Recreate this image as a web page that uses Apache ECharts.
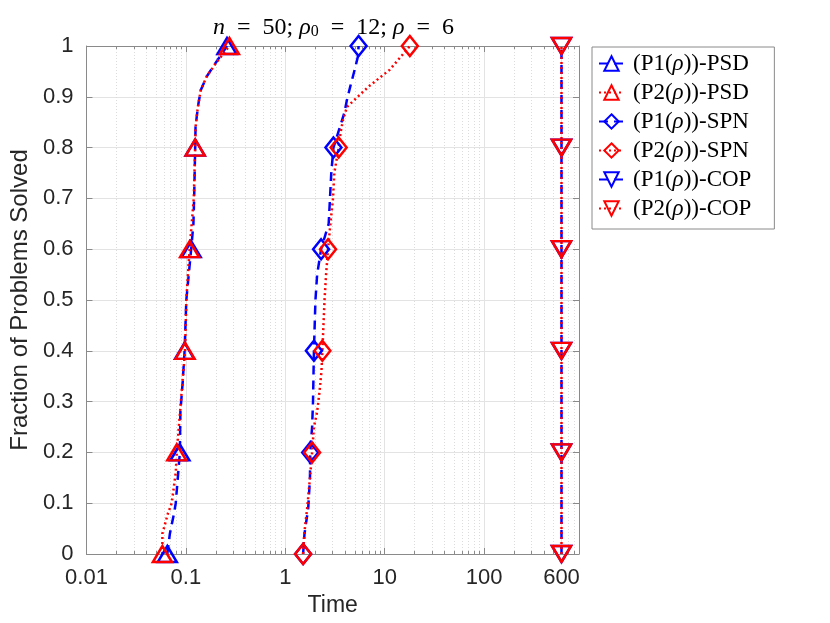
<!DOCTYPE html>
<html>
<head>
<meta charset="utf-8">
<script src="https://cdn.jsdelivr.net/npm/echarts@6/dist/echarts.min.js"></script>
<style>
  html, body { margin: 0; padding: 0; background: #fff; }
  #chart { width: 830px; height: 623px; }
</style>
</head>
<body>
<div id="chart"></div>
<script>
// performance profile: fraction of problems solved vs time (log scale)
var psdP1Frac = [0, 0.04, 0.08, 0.1, 0.2, 0.28, 0.34, 0.4, 0.5, 0.6, 0.65, 0.7, 0.8, 0.84, 0.88, 0.913, 0.94, 0.966, 1];
var psdP1Time = [0.065, 0.069, 0.076, 0.079, 0.087, 0.088, 0.093, 0.097, 0.101, 0.113, 0.119, 0.121, 0.124, 0.125, 0.132, 0.141, 0.162, 0.198, 0.259];

var psdP2Frac = [0, 0.04, 0.08, 0.1, 0.16, 0.2, 0.3, 0.4, 0.5, 0.6, 0.7, 0.8, 0.84, 0.88, 0.913, 0.94, 0.966, 1];
var psdP2Time = [0.058, 0.058, 0.066, 0.072, 0.079, 0.081, 0.089, 0.098, 0.101, 0.109, 0.120, 0.124, 0.125, 0.132, 0.141, 0.162, 0.2, 0.274];

var spnP1Frac = [0, 0.04, 0.09, 0.15, 0.2, 0.25, 0.3, 0.4, 0.5, 0.55, 0.6, 0.65, 0.75, 0.8, 0.835, 0.868, 0.894, 0.92, 0.953, 0.979, 1];
var spnP1Time = [1.51, 1.56, 1.70, 1.77, 1.78, 1.86, 1.9, 1.94, 2.01, 2.09, 2.29, 2.73, 2.9, 3.05, 3.47, 3.92, 4.17, 4.5, 4.98, 5.37, 5.46];

var spnP2Frac = [0, 0.04, 0.09, 0.15, 0.2, 0.25, 0.28, 0.32, 0.36, 0.4, 0.5, 0.55, 0.6, 0.65, 0.7, 0.75, 0.8, 0.83, 0.854, 0.88, 0.92, 0.953, 1];
var spnP2Time = [1.51, 1.55, 1.66, 1.77, 1.86, 1.94, 2.09, 2.21, 2.31, 2.36, 2.48, 2.57, 2.69, 2.84, 3.02, 3.11, 3.44, 3.6, 3.8, 4.17, 6.87, 11.2, 17.9];

var copFrac = [0, 0.2, 0.4, 0.6, 0.8, 1];
var copP1Time = [600, 600, 600, 600, 600, 600];
var copP2Time = [600, 600, 600, 600, 600, 600];

var xTickValues = [0.01, 0.1, 1, 10, 100, 600];
var xTickLabels = ["0.01", "0.1", "1", "10", "100", "600"];
var legendNames = ["(P1(ρ))-PSD", "(P2(ρ))-PSD", "(P1(ρ))-SPN", "(P2(ρ))-SPN", "(P1(ρ))-COP", "(P2(ρ))-COP"];

var SANS = "Liberation Sans";
var SERIF = "Liberation Serif";
var BLUE = "#0000ff";
var RED = "#ff0000";
var AXIS = "#8a8a8a";
var EN = "\u2002";

// minor ticks 2..9 in each decade, up to the axis max
var xMax = 900;
var xMinorValues = [];
for (var d = 0.01; d < 1000; d *= 10) {
  for (var k = 2; k <= 9; k++) {
    var v = +(d * k).toPrecision(4);
    if (v < xMax && v !== 600) xMinorValues.push(v);
  }
}

// markers only every 0.2 of the profile
function buildData(fracs, times) {
  return fracs.map(function(f, i) {
    var mark = Math.abs(f * 5 - Math.round(f * 5)) < 1e-9;
    return mark ? [times[i], f] : { value: [times[i], f], symbol: "none" };
  });
}

function makeSeries(name, fracs, times, color, dashed, symbol, size, rotate) {
  return {
    name: name,
    type: "line",
    xAxisIndex: 0,
    yAxisIndex: 0,
    data: buildData(fracs, times),
    symbol: symbol,
    symbolSize: size,
    symbolRotate: rotate || 0,
    showAllSymbol: true,
    lineStyle: { color: color, width: 2.5, type: dashed ? [9, 6] : [2, 3] },
    itemStyle: { color: "rgba(255,255,255,0)", borderColor: color, borderWidth: 2.5 },
    emphasis: { disabled: true },
    animation: false
  };
}

function labelOf(v) {
  var r = +(+v).toPrecision(6);
  var idx = xTickValues.indexOf(r);
  return idx >= 0 ? xTickLabels[idx] : "";
}

var chart = echarts.init(document.getElementById("chart"), null, { renderer: "canvas" });

var baseX = { type: "log", logBase: 10, min: 0.01, max: xMax, gridIndex: 0 };

var option = {
  backgroundColor: "#fff",
  animation: false,
  title: {
    text: "{i|n}" + EN + "=" + EN + "50; {i|ρ}{s|0}" + EN + "=" + EN + "12; {i|ρ}" + EN + "=" + EN + "6",
    left: 208,
    top: 11,
    textStyle: {
      fontFamily: SERIF, fontSize: 24, fontWeight: "normal", color: "#000",
      rich: {
        i: { fontFamily: SERIF, fontSize: 24, fontStyle: "italic", color: "#000" },
        s: { fontFamily: SERIF, fontSize: 16, verticalAlign: "bottom", color: "#000" }
      }
    }
  },
  legend: {
    orient: "vertical",
    left: 592,
    top: 47,
    itemWidth: 25,
    itemHeight: 18,
    itemGap: 6,
    padding: [5, 23, 9, 6],
    borderColor: "#8a8a8a",
    borderWidth: 1,
    backgroundColor: "#fff",
    selectedMode: false,
    data: legendNames,
    formatter: function(name) { return name.replace("ρ", "{i|ρ}"); },
    textStyle: {
      fontFamily: SERIF, fontSize: 23, color: "#000", padding: [0, 0, 0, 4],
      rich: { i: { fontFamily: SERIF, fontSize: 23, fontStyle: "italic", color: "#000" } }
    }
  },
  grid: { left: 83, right: 251, top: 46, bottom: 69, containLabel: false },
  xAxis: [
    Object.assign({}, baseX, {
      position: "bottom",
      name: "Time",
      nameLocation: "middle",
      nameGap: 36,
      nameTextStyle: { fontFamily: SANS, fontSize: 23, color: "#262626" },
      axisLine: { show: true, lineStyle: { color: AXIS, width: 1 } },
      axisTick: { show: true, inside: true, length: 6, lineStyle: { color: AXIS }, customValues: xTickValues },
      axisLabel: { show: true, margin: 13, fontFamily: SANS, fontSize: 22, color: "#262626",
        customValues: xTickValues, formatter: labelOf },
      splitLine: { show: true, lineStyle: { color: "#e3e3e3", width: 1 } },
      minorTick: { show: false }
    }),
    Object.assign({}, baseX, {
      position: "bottom",
      axisLine: { show: false },
      axisTick: { show: true, inside: true, length: 3, lineStyle: { color: AXIS }, customValues: xMinorValues },
      axisLabel: { show: false, customValues: xMinorValues },
      splitLine: { show: true, lineStyle: { color: "#dcdcdc", width: 1, type: [1, 2] } }
    }),
    Object.assign({}, baseX, {
      position: "top",
      axisLine: { show: true, lineStyle: { color: AXIS, width: 1 } },
      axisTick: { show: true, inside: true, length: 6, lineStyle: { color: AXIS }, customValues: xTickValues },
      axisLabel: { show: false, customValues: xTickValues },
      splitLine: { show: false }
    }),
    Object.assign({}, baseX, {
      position: "top",
      axisLine: { show: false },
      axisTick: { show: true, inside: true, length: 3, lineStyle: { color: AXIS }, customValues: xMinorValues },
      axisLabel: { show: false, customValues: xMinorValues },
      splitLine: { show: false }
    })
  ],
  yAxis: [
    {
      type: "value", min: 0, max: 1, interval: 0.1, position: "left",
      name: "Fraction of Problems Solved",
      nameLocation: "middle",
      nameGap: 50,
      nameTextStyle: { fontFamily: SANS, fontSize: 24, color: "#262626" },
      axisLine: { show: true, lineStyle: { color: AXIS, width: 1 } },
      axisTick: { show: true, inside: true, length: 6, lineStyle: { color: AXIS } },
      axisLabel: { margin: 13, fontFamily: SANS, fontSize: 22, color: "#262626" },
      splitLine: { show: true, lineStyle: { color: "#e3e3e3", width: 1 } }
    },
    {
      type: "value", min: 0, max: 1, interval: 0.1, position: "right",
      axisLine: { show: true, lineStyle: { color: AXIS, width: 1 } },
      axisTick: { show: true, inside: true, length: 6, lineStyle: { color: AXIS } },
      axisLabel: { show: false },
      splitLine: { show: false }
    }
  ],
  series: [
    makeSeries(legendNames[0], psdP1Frac, psdP1Time, BLUE, true, "triangle", [19, 16]),
    makeSeries(legendNames[1], psdP2Frac, psdP2Time, RED, false, "triangle", [19, 16]),
    makeSeries(legendNames[2], spnP1Frac, spnP1Time, BLUE, true, "diamond", [16, 20]),
    makeSeries(legendNames[3], spnP2Frac, spnP2Time, RED, false, "diamond", [16, 20]),
    makeSeries(legendNames[4], copFrac, copP1Time, BLUE, true, "triangle", [19, 16], 180),
    makeSeries(legendNames[5], copFrac, copP2Time, RED, false, "triangle", [19, 16], 180)
  ]
};

chart.setOption(option);
</script>
</body>
</html>
